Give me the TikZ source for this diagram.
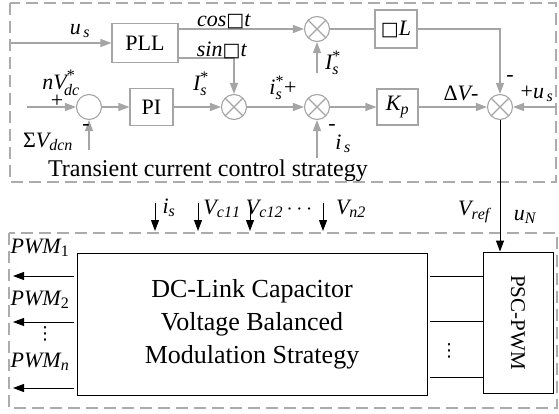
\documentclass[tikz,border=0pt]{standalone}
\usepackage{fix-cm}
\usepackage{amsmath}
\usepackage{fontspec}
\setmainfont{Liberation Serif}
\newfontfamily\dejavu{DejaVu Sans}
\usetikzlibrary{arrows.meta}
\DeclareMathSizes{22}{22}{16}{12}
\definecolor{lgray}{RGB}{165,165,165}
\definecolor{dgray}{RGB}{172,172,172}
\newcommand\mv[1]{\mathit{#1}}
\newcommand\sqg{{\dejavu\fontsize{19}{19}\selectfont □}}
\begin{document}
\begin{tikzpicture}[x=1pt,y=-1pt,
  font=\fontsize{22}{26}\selectfont,
  gl/.style={draw=lgray, line width=1.1pt},
  garr/.style={gl, -{Triangle[length=11pt,width=8pt]}},
  bl/.style={draw=black, line width=0.9pt},
  barr/.style={bl, -{Triangle[length=11pt,width=8pt]}},
  gbox/.style={draw=lgray, line width=1.1pt, inner sep=0pt},
  bbox/.style={draw=black, line width=0.9pt, inner sep=0pt},
  sumc/.style={circle, draw=lgray, line width=1.1pt, minimum size=25pt, inner sep=0pt},
  mult/.style={sumc, path picture={\draw[lgray, line width=1.1pt]
      (path picture bounding box.north west) -- (path picture bounding box.south east)
      (path picture bounding box.north east) -- (path picture bounding box.south west);}},
  frame/.style={draw=dgray, line width=2.5pt, dash pattern=on 12pt off 6pt},
  lab/.style={inner sep=0pt},
  dots/.style={inner sep=0pt, font=\dejavu\fontsize{18}{18}\selectfont}
]
\useasboundingbox (0,0) rectangle (559,414);

% frames
\draw[frame] (10,3) rectangle (556,182);
\draw[frame] (9,233) rectangle (557,408);

% ---- top: transient current control ----
\node[gbox, minimum width=66pt, minimum height=39pt] (pll) at (145,43) {PLL};
\node[mult] (m1) at (317,29) {};
\node[gbox, minimum width=42pt, minimum height=38pt] (wl) at (396,29) {\sqg\textit{L}};
\node[sumc] (sum) at (89,107) {};
\node[gbox, minimum width=43pt, minimum height=37pt] (pi) at (151.5,107) {PI};
\node[mult] (m2) at (234,107) {};
\node[mult] (m3) at (317,107) {};
\node[gbox, minimum width=41pt, minimum height=36pt] (kp) at (397.5,107) {$\mv{K}_{\mv{p}}$};
\node[mult] (m4) at (500,107) {};

\coordinate (usin) at (11,43);
\coordinate (isb) at (317,73);
\coordinate (nin) at (27,107);
\coordinate (sig) at (89,150);
\coordinate (isin) at (317,158);
\coordinate (usr) at (556,107);

\draw[garr] (usin) -- (pll.west);
\draw[garr] (pll.east |- m1) -- (m1);
\draw[garr] ([yshift=-15pt]pll.east) -| (m2.north);
\draw[gl] (m1) -- (wl);
\draw[garr] (wl.east) -| (m4.north);
\draw[garr] (isb) -- (m1.south);
\draw[garr] (nin) -- (sum);
\draw[garr] (sig) -- (sum.south);
\draw[garr] (sum) -- (pi);
\draw[garr] (pi) -- (m2);
\draw[garr] (m2) -- (m3);
\draw[garr] (isin) -- (m3.south);
\draw[garr] (m3) -- (kp);
\draw[garr] (kp) -- (m4);
\draw[garr] (usr) -- (m4);

\node[lab] at (80,31) {$\mv{u}_{\,\mv{s}}$};
\node[lab] at (224,21) {\textit{cos}\sqg\textit{t}};
\node[lab] at (222,50) {\textit{sin}\sqg\textit{t}};
\node[lab] at (333,63) {$\mv{I}_{\mv{s}}^{\text{*}}$};
\node[lab] at (510,78) {-};
\node[lab] at (61,83) {$\mv{nV}_{\!\mv{dc}}^{\text{*}}$};
\node[lab] at (57,101) {+};
\node[lab] at (48,142) {Σ$\mv{V}_{\mv{dcn}}$};
\node[lab] at (86,127) {-};
\node[lab] at (201,84) {$\mv{I}_{\mv{s}}^{\text{*}}$};
\node[lab] at (283,88) {$\mv{i}_{\mv{s}}^{\text{*}}$+};
\node[lab] at (332,127) {-};
\node[lab] at (343,144) {$\mv{i}_{\,\mv{s}}$};
\node[lab] at (461,93) {Δ$\mv{V}$-};
\node[lab] at (537,94) {+$\mv{u}_{\,\mv{s}}$};
\node[lab, anchor=base, font=\fontsize{24}{26}\selectfont] at (208,177) {Transient current control strategy};

% ---- bottom: modulation ----
\node[bbox, minimum width=350pt, minimum height=142pt, align=center,
      font=\fontsize{26}{33}\selectfont] (main) at (252,324)
      {DC-Link Capacitor\\Voltage Balanced\\Modulation Strategy};
\node[bbox, minimum width=70pt, minimum height=141pt] (psc) at (518,322.5) {};
\node[lab, rotate=-90, font=\fontsize{21}{24}\selectfont] at (psc.center) {PSC-PWM};

\draw[barr] (m4.south) -- (m4.south |- psc.north);

\coordinate (r1) at (0,276);
\coordinate (r2) at (0,321);
\coordinate (r3) at (0,377);
\draw[bl] ([xshift=3pt]main.east |- r1) -- (psc.west |- r1);
\draw[bl] ([xshift=3pt]main.east |- r2) -- (psc.west |- r2);
\draw[bl] ([xshift=3pt]main.east |- r3) -- (psc.west |- r3);
\node[dots] at (449,351) {⋮};

\coordinate (p1) at (13,276);
\coordinate (p2) at (13,322);
\coordinate (p3) at (13,388);
\draw[barr] ([xshift=-3pt]main.west |- p1) -- (p1);
\draw[barr] ([xshift=-3pt]main.west |- p2) -- (p2);
\draw[barr] ([xshift=-3pt]main.west |- p3) -- (p3);
\node[lab] at (40,248) {$\mv{PWM}_{\mathrm{1}}$};
\node[lab] at (40,300) {$\mv{PWM}_{\mathrm{2}}$};
\node[dots] at (45,334) {⋮};
\node[lab] at (40,362) {$\mv{PWM}_{\mv{n}}$};

% measured inputs
\coordinate (a1t) at (155,203); \coordinate (a1b) at (155,231);
\coordinate (a2t) at (198,203); \coordinate (a2b) at (198,231);
\coordinate (a3t) at (250,203); \coordinate (a3b) at (250,231);
\coordinate (a4t) at (323,203); \coordinate (a4b) at (323,231);
\draw[barr] (a1t) -- (a1b);
\draw[barr] (a2t) -- (a2b);
\draw[barr] (a3t) -- (a3b);
\draw[barr] (a4t) -- (a4b);
\node[lab] at (169,208) {$\mv{i}_{\mv{s}}$};
\node[lab] at (222,209) {$\mv{V}_{\mv{c11}}$};
\node[lab] at (281,209) {$\mv{V}_{\mv{c12}}$\,$\cdots$};
\node[lab] at (351,209) {$\mv{V}_{\mv{n2}}$};
\node[lab] at (474,212) {$\mv{V}_{\mv{ref}}$};
\node[lab] at (525,217) {$\mv{u}_{\mv{N}}$};
\end{tikzpicture}
\end{document}
